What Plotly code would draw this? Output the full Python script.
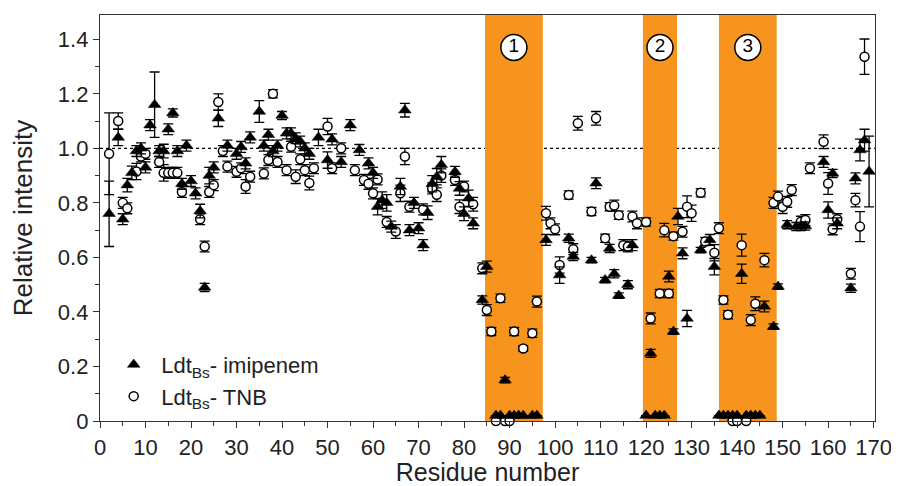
import plotly.graph_objects as go

# ---------------- data ----------------
imi_res = [2, 4, 5, 6, 7, 8, 9, 10, 11, 12, 13, 14, 15, 16, 17, 18, 19, 20, 21, 22, 23, 24, 25, 26,
           28, 30, 31, 32, 33, 35, 36, 37, 38, 39, 40, 41, 42, 43, 44, 45, 46, 48, 50, 51, 53, 55, 57,
           59, 60, 61, 62, 63, 64, 66, 67, 68, 69, 70, 71, 72, 73, 74, 75, 78, 79, 80, 81, 82, 84, 85,
           87, 88, 89, 90, 91, 92, 93, 95, 96,
           98, 101, 103, 104, 108, 109, 111, 112, 113, 114, 116, 117,
           120, 121, 122, 123, 124, 125, 126,
           127, 128, 129, 132, 134, 135,
           136, 137, 138, 139, 140, 141, 142, 143, 144, 145, 146, 148, 149,
           151, 153, 154, 155, 159, 160, 161, 162, 165, 166, 167, 168, 169]
imi_val = [0.76, 1.04, 0.74, 0.865, 0.91, 0.99, 1.00, 0.93, 1.085, 1.16, 0.99, 0.99, 1.07, 1.13, 0.99, 0.87, 1.01, 0.88, 0.835, 0.77, 0.49, 0.90, 0.93, 1.11,
           1.01, 0.98, 1.005, 0.945, 1.04, 1.135, 1.01, 1.05, 0.99, 1.01, 1.12, 1.055, 1.055, 1.037, 1.025, 1.00, 0.98, 1.04, 0.957, 1.033, 0.95, 1.085, 0.994,
           0.945, 0.91, 0.786, 0.81, 0.80, 0.713, 0.86, 1.14, 0.70, 0.80, 0.707, 0.645, 0.764, 0.87, 0.896, 0.94, 0.914, 0.853, 0.76, 0.817, 0.725, 0.444, 0.566,
           0.02, 0.02, 0.15, 0.02, 0.02, 0.02, 0.02, 0.02, 0.02,
           0.664, 0.535, 0.67, 0.603, 0.59, 0.872, 0.517, 0.633, 0.54, 0.46, 0.50, 0.645,
           0.02, 0.248, 0.02, 0.02, 0.02, 0.53, 0.328,
           0.75, 0.615, 0.376, 0.627, 0.664, 0.566,
           0.02, 0.02, 0.02, 0.02, 0.02, 0.54, 0.02, 0.02, 0.02, 0.02, 0.42, 0.346, 0.493,
           0.72, 0.713, 0.713, 0.715, 0.95, 0.774, 0.908, 0.725, 0.487, 0.89, 0.994, 1.03, 0.915]
imi_err = [0.12, 0.03, 0.02, 0.025, 0.025, 0.02, 0.02, 0.02, 0.02, 0.12, 0.02, 0.025, 0.02, 0.015, 0.02, 0.02, 0.02, 0.02, 0.02, 0.025, 0.015, 0.03, 0.02, 0.03,
           0.02, 0.02, 0.02, 0.02, 0.02, 0.04, 0.02, 0.02, 0.02, 0.02, 0.015, 0.02, 0.02, 0.02, 0.02, 0.02, 0.02, 0.03, 0.03, 0.02, 0.02, 0.02, 0.02,
           0.02, 0.02, 0.03, 0.03, 0.03, 0.02, 0.03, 0.025, 0.02, 0.02, 0.02, 0.02, 0.025, 0.03, 0.03, 0.03, 0.02, 0.025, 0.025, 0.03, 0.02, 0.015, 0.02,
           0, 0, 0.01, 0, 0, 0, 0, 0, 0,
           0.02, 0.03, 0.015, 0.015, 0.01, 0.02, 0.01, 0.015, 0.015, 0.01, 0.015, 0.02,
           0, 0.015, 0, 0, 0, 0.02, 0.01,
           0.03, 0.02, 0.03, 0.01, 0.02, 0.03,
           0, 0, 0, 0, 0, 0.035, 0, 0, 0, 0, 0.02, 0.01, 0.01,
           0.015, 0.015, 0.015, 0.015, 0.02, 0.03, 0.015, 0.02, 0.015, 0.02, 0.04, 0.04, 0.13]

tnb_res = [2, 4, 5, 6, 8, 9, 10, 13, 14, 15, 16, 17, 18, 22, 23, 24, 25, 26, 27, 28, 30, 31, 32, 33,
           36, 37, 38, 39, 41, 42, 43, 44, 45, 46, 47, 50, 51, 53, 56, 58,
           59, 60, 61, 63, 65, 66, 67, 68, 71, 73, 74, 75, 78, 79, 80, 82, 84, 85,
           86, 87, 88, 89, 90, 91, 93, 95, 96,
           98, 99, 100, 101, 103, 104, 105, 108, 109, 111, 112, 113, 114, 115, 116, 117, 118,
           120, 121, 123, 124, 125, 126,
           128, 129, 130, 132, 133, 135,
           136, 137, 138, 139, 140, 141, 142, 143, 144, 146, 148,
           149, 150, 151, 152, 154, 155, 156, 159, 160, 161, 162, 165, 166, 167, 168]
tnb_val = [0.98, 1.10, 0.80, 0.78, 0.915, 0.97, 0.98, 0.95, 0.91, 0.91, 0.91, 0.91, 0.84, 0.74, 0.64, 0.84, 0.865, 1.17, 0.99, 0.933, 0.914, 0.927, 0.86, 0.896,
           0.908, 0.957, 1.20, 0.95, 0.92, 1.006, 0.896, 0.96, 0.92, 0.873, 0.927, 1.08, 0.927, 1.00, 0.92, 0.884,
           0.87, 0.835, 0.886, 0.73, 0.695, 0.835, 0.97, 0.786, 0.776, 0.853, 0.83, 0.90, 0.884, 0.786, 0.86, 0.795, 0.56, 0.407,
           0.328, 0.0, 0.45, 0.0, 0.0, 0.328, 0.266, 0.322, 0.438,
           0.762, 0.725, 0.703, 0.572, 0.829, 0.63, 1.092, 0.768, 1.11, 0.67, 0.786, 0.79, 0.755, 0.645, 0.64, 0.75, 0.725,
           0.73, 0.376, 0.468, 0.70, 0.468, 0.678,
           0.694, 0.786, 0.762, 0.837, 0.658, 0.617,
           0.707, 0.444, 0.39, 0.0, 0.0, 0.645, 0.0, 0.37, 0.43, 0.59, 0.80,
           0.823, 0.786, 0.804, 0.847, 0.731, 0.737, 0.927, 1.024, 0.871, 0.703, 0.74, 0.54, 0.81, 0.713, 1.336]
tnb_err = [0.15, 0.03, 0.02, 0.02, 0.03, 0.02, 0.02, 0.02, 0.03, 0.02, 0.02, 0.02, 0.02, 0.02, 0.02, 0.02, 0.02, 0.03, 0.02, 0.02, 0.02, 0.02, 0.025, 0.02,
           0.02, 0.02, 0.015, 0.02, 0.02, 0.02, 0.025, 0.02, 0.02, 0.025, 0.02, 0.03, 0.02, 0.02, 0.02, 0.02,
           0.02, 0.02, 0.02, 0.02, 0.025, 0.03, 0.03, 0.02, 0.02, 0.02, 0.025, 0.025, 0.02, 0.025, 0.02, 0.025, 0.02, 0.02,
           0.015, 0, 0.015, 0, 0, 0.015, 0.01, 0.015, 0.02,
           0.025, 0.02, 0.02, 0.03, 0.015, 0.02, 0.025, 0.015, 0.025, 0.015, 0.015, 0.02, 0.015, 0.02, 0.02, 0.02, 0.02,
           0.015, 0.02, 0.015, 0.025, 0.015, 0.015,
           0.02, 0.04, 0.03, 0.015, 0.015, 0.03,
           0.02, 0.015, 0.015, 0, 0, 0.04, 0, 0.02, 0.025, 0.025, 0.02,
           0.02, 0.025, 0.02, 0.02, 0.02, 0.02, 0.02, 0.025, 0.04, 0.02, 0.02, 0.02, 0.025, 0.055, 0.065]

band_starts = [84.6, 119.3, 136.0]
band_ends = [97.3, 126.8, 148.7]
band_labels = ["1", "2", "3"]
label_level = 1.37
reference_level = 1.0

x_ticks = list(range(0, 171, 10))
y_ticks = [0, 0.2, 0.4, 0.6, 0.8, 1.0, 1.2, 1.4]
y_tick_text = ["0", "0.2", "0.4", "0.6", "0.8", "1.0", "1.2", "1.4"]

# ---------------- figure ----------------
FONT = "Liberation Sans, Arial, sans-serif"
ORANGE = "#F7941D"
INK = "#222222"

fig = go.Figure()

shapes = [dict(type="line", xref="paper", yref="y", x0=0, x1=1,
               y0=reference_level, y1=reference_level,
               line=dict(color="black", width=1.2, dash="dot"), layer="below")]
for s, e in zip(band_starts, band_ends):
    shapes.append(dict(type="rect", xref="x", yref="paper", x0=s, x1=e, y0=0, y1=1,
                       fillcolor=ORANGE, line=dict(width=0), layer="below"))

fig.add_trace(go.Scatter(
    x=tnb_res, y=tnb_val, mode="markers", name="Ldt<sub>Bs</sub>- TNB",
    legendrank=2, cliponaxis=False,
    marker=dict(symbol="circle", size=9, color="white", line=dict(color="black", width=1.5)),
    error_y=dict(type="data", array=tnb_err, color="black", thickness=1.3, width=5),
))
fig.add_trace(go.Scatter(
    x=imi_res, y=imi_val, mode="markers", name="Ldt<sub>Bs</sub>- imipenem",
    legendrank=1, cliponaxis=False,
    marker=dict(symbol="triangle-up", size=11, color="black", line=dict(color="black", width=0.5)),
    error_y=dict(type="data", array=imi_err, color="black", thickness=1.3, width=5),
))

centers = [(s + e) / 2 for s, e in zip(band_starts, band_ends)]
fig.add_trace(go.Scatter(
    x=centers, y=[label_level] * len(centers), mode="markers+text", text=band_labels,
    textposition="middle center", showlegend=False, hoverinfo="skip", cliponaxis=False,
    textfont=dict(family=FONT, size=19, color="black"),
    marker=dict(symbol="circle", size=26, color="white", line=dict(color="black", width=1.5)),
))

axis_common = dict(showline=True, linecolor="#333333", linewidth=1.3, mirror=True,
                   ticks="outside", ticklen=6, tickwidth=1.3, tickcolor="#333333",
                   showgrid=False, zeroline=False,
                   tickfont=dict(family=FONT, size=22, color=INK))

# the page body adds an 8px offset, so the figure is sized to fit the window
fig.update_layout(
    width=891, height=478,
    paper_bgcolor="white", plot_bgcolor="white",
    margin=dict(l=92, r=20, t=7, b=65),
    shapes=shapes,
    font=dict(family=FONT, color=INK),
    xaxis=dict(range=[0, 170.3], tickvals=x_ticks, automargin="left+right", **axis_common,
               minor=dict(dtick=5, tick0=0, ticks="outside", ticklen=4, tickwidth=1.2, tickcolor="#333333"),
               title=dict(text="Residue number", font=dict(family=FONT, size=25, color=INK), standoff=12)),
    yaxis=dict(range=[0, 1.489], tickvals=y_ticks, ticktext=y_tick_text, automargin=True, **axis_common,
               minor=dict(dtick=0.1, tick0=0, ticks="outside", ticklen=4, tickwidth=1.2, tickcolor="#333333"),
               title=dict(text="Relative intensity", font=dict(family=FONT, size=26, color=INK), standoff=20)),
    legend=dict(x=0.008, y=0.008, xanchor="left", yanchor="bottom", bgcolor="rgba(0,0,0,0)",
                font=dict(family=FONT, size=22, color=INK), tracegroupgap=0, itemwidth=45),
    showlegend=True,
)

fig.write_html("out.html")
